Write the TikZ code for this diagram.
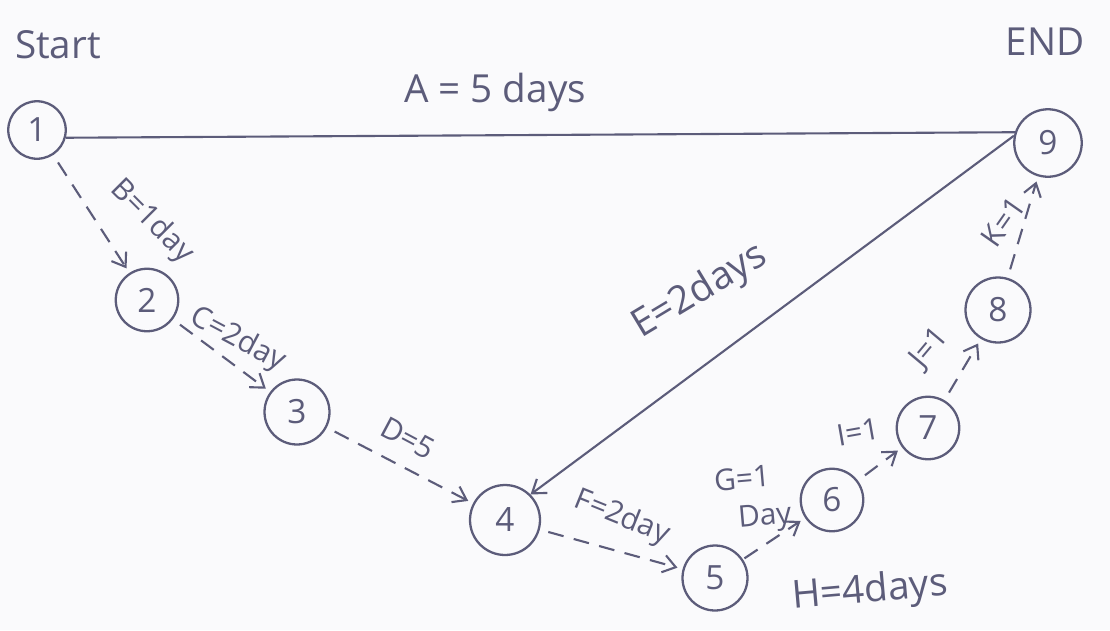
\documentclass[tikz,border=0pt]{standalone}
\usepackage{fontspec}
\setmainfont{Open Sans}
\usetikzlibrary{arrows.meta}
\definecolor{pencil}{RGB}{92,92,122}
\definecolor{paper}{RGB}{250,250,252}

\begin{document}
\begin{tikzpicture}[x=0.02cm, y=-0.02cm,
  ev/.style={draw=pencil, circle, line width=1.3pt, minimum size=1.25cm,
             inner sep=0pt, text=pencil, font=\fontsize{19}{21}\selectfont},
  lbl/.style={text=pencil, inner sep=0pt, font=\fontsize{17}{19}\selectfont},
  big/.style={text=pencil, inner sep=1pt, font=\fontsize{22}{24}\selectfont},
  act/.style={draw=pencil, line width=1.2pt, dash pattern=on 9pt off 6pt,
              shorten <=5pt, shorten >=3pt,
              -{Straight Barb[length=2.5mm,width=3.5mm]}},
  plain/.style={draw=pencil, line width=1.2pt}]
\fill[paper] (0,0) rectangle (1110,630);
\useasboundingbox (0,0) rectangle (1110,630);
% events
\node[ev, minimum size=1.15cm] (n1) at (37,130) {1};
\node[ev] (n2) at (147,300) {2};
\node[ev, minimum size=1.3cm] (n3) at (297,412) {3};
\node[ev, minimum size=1.4cm] (n4) at (505,520) {4};
\node[ev, minimum size=1.3cm] (n5) at (715,578) {5};
\node[ev] (n6) at (832,500) {6};
\node[ev] (n7) at (928,428) {7};
\node[ev, minimum size=1.3cm] (n8) at (998,310) {8};
\node[ev, minimum size=1.35cm] (n9) at (1048,143) {9};
\node[big] (start) at (58,45) {Start};
\node[big] (end) at (1045,42) {END};
% activities
\draw[plain] (n1.-15) -- (n9.162);
\node[big] (la) at (495,92) {A = 5 days};
\draw[act] (n1) -- (n2);
\node[lbl, rotate=-45] (lb) at (152,222) {B=1day};
\draw[act] (n2) -- (n3);
\node[lbl, rotate=-28] (lc) at (238,340) {C=2day};
\draw[act] (n3) -- (n4);
\node[lbl, rotate=-28] (ld) at (408,438) {D=5};
\draw[plain, -{Straight Barb[length=2.5mm,width=3.5mm]}] (n9.168) -- (n4.45);
\node[big, rotate=31] (le) at (700,292) {E=2days};
\draw[act] (n4) -- (n5);
\node[lbl, rotate=-22] (lf) at (622,518) {F=2day};
\draw[act, shorten <=1pt] (n5) -- (n6);
\node[lbl, rotate=5] (lg) at (742,478) {G=1};
\node[lbl, rotate=5] (lday) at (765,518) {Day};
\node[big, rotate=5] (lh) at (870,592) {H=4days};
\draw[act] (n6) -- (n7);
\node[lbl, rotate=10] (li) at (858,432) {I=1};
\draw[act] (n7) -- (n8);
\node[lbl, rotate=50] (lj) at (930,348) {J=1};
\draw[act] (n8) -- (n9);
\node[lbl, rotate=55] (lk) at (1003,222) {K=1};
\end{tikzpicture}
\end{document}
